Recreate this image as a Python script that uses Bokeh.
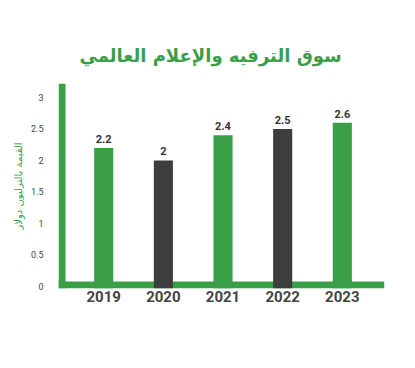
from bokeh.plotting import figure
from bokeh.models import Range1d, FixedTicker, Span, Title
from bokeh.core.properties import value
from bokeh.embed import file_html
from bokeh.resources import INLINE

years = [2019, 2020, 2021, 2022, 2023]
values = [2.2, 2.0, 2.4, 2.5, 2.6]
value_labels = ["2.2", "2", "2.4", "2.5", "2.6"]
year_labels = ["2019", "2020", "2021", "2022", "2023"]
y_ticks = [0, 0.5, 1, 1.5, 2, 2.5, 3]
y_tick_labels = ["0", "0.5", "1", "1.5", "2", "2.5", "3"]
title_text = "سوق الترفيه والإعلام العالمي"
y_axis_title = "القيمة بالترليون دولار"

GREEN = "#3a9e47"
DARK = "#3d3d3d"
bar_colors = [GREEN, DARK, GREEN, DARK, GREEN]

y_start, y_end = -0.032, 3.222
x_start, x_end = 2018.242, 2023.707
PX_X = 59.65

p = figure(width=399, height=338, output_backend="svg", toolbar_location=None,
           x_range=Range1d(x_start, x_end), y_range=Range1d(y_start, y_end),
           min_border_left=58, min_border_right=15, min_border_top=83,
           min_border_bottom=50)
p.outline_line_color = None
p.xgrid.visible = False
p.ygrid.visible = False
p.background_fill_color = "white"
p.border_fill_color = "white"

t = Title(text=title_text, align="left", offset=21, standoff=36,
          text_font="DejaVu Sans", text_font_size="18px",
          text_font_style="bold", text_color=GREEN)
p.add_layout(t, "above")

# axis guide bars
p.add_layout(Span(location=0.024, dimension="width", line_color=GREEN,
                  line_width=7, level="underlay"))
p.add_layout(Span(location=x_start + 3.5 / PX_X, dimension="height",
                  line_color=GREEN, line_width=7, level="underlay"))

p.vbar(x=years, top=values, bottom=y_start, width=0.32, fill_color=bar_colors,
       line_color=None)
p.text(x=years, y=values, text=value_labels, text_align="center",
       text_baseline="bottom", y_offset=-5, text_font=value("Roboto"),
       text_font_size="11px", text_font_style="bold", text_color="#333333")

xa = p.xaxis[0]
xa.ticker = FixedTicker(ticks=years)
xa.major_label_overrides = {y: l for y, l in zip(years, year_labels)}
xa.axis_line_color = None
xa.major_tick_line_color = None
xa.minor_tick_line_color = None
xa.major_label_standoff = -4
xa.major_label_text_font = "Roboto"
xa.major_label_text_font_size = "15px"
xa.major_label_text_font_style = "bold"
xa.major_label_text_color = "#444444"

ya = p.yaxis[0]
ya.ticker = FixedTicker(ticks=y_ticks)
ya.major_label_overrides = {v: l for v, l in zip(y_ticks, y_tick_labels)}
ya.axis_line_color = None
ya.major_tick_line_color = None
ya.minor_tick_line_color = None
ya.major_label_standoff = 9
ya.major_label_text_font = "Roboto"
ya.major_label_text_font_size = "9px"
ya.major_label_text_color = "#444444"
ya.axis_label = y_axis_title
ya.axis_label_standoff = 4
ya.axis_label_text_font = "DejaVu Sans"
ya.axis_label_text_font_size = "10px"
ya.axis_label_text_font_style = "normal"
ya.axis_label_text_color = GREEN

open("out.html", "w").write(file_html(p, INLINE))
